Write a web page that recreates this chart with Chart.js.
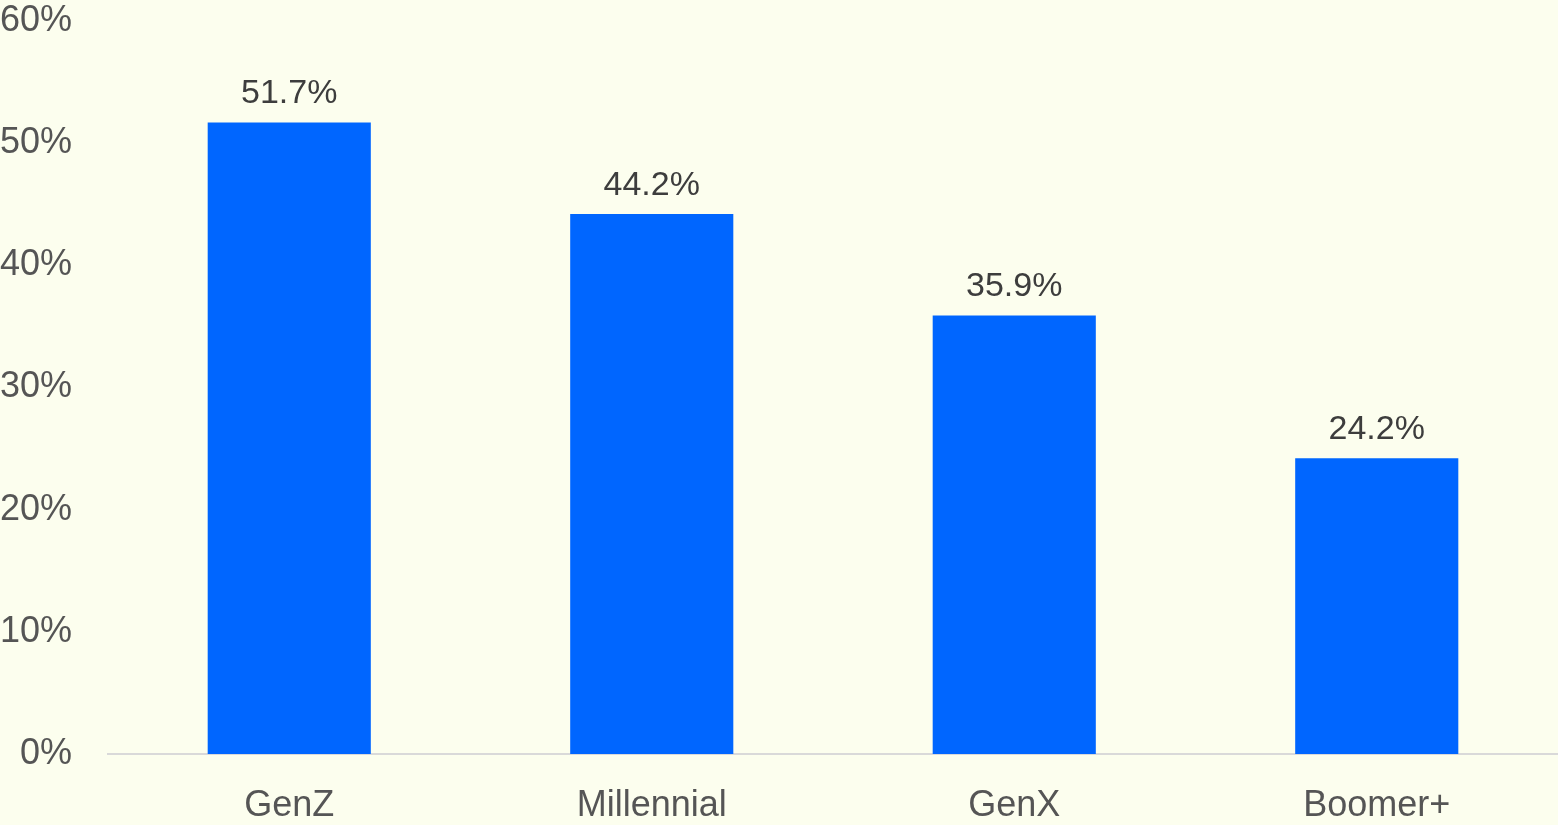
<!DOCTYPE html>
<html><head><meta charset="utf-8">
<script src="https://cdn.jsdelivr.net/npm/chart.js@4.4.1/dist/chart.umd.min.js"></script>
<style>
html,body{margin:0;padding:0;background:#FCFEEE;}
#wrap{width:1558px;height:825px;position:relative;}
</style></head>
<body><div id="wrap"><canvas id="c" width="1558" height="825"></canvas></div>
<script>
const categories = ["GenZ", "Millennial", "GenX", "Boomer+"];
const values = [51.7, 44.2, 35.9, 24.2];
const yTicks = [0, 10, 20, 30, 40, 50, 60];

const FONT = "'Liberation Sans', Arial, sans-serif";

const labelPlugin = {
  id: 'barLabels',
  afterDatasetsDraw(chart) {
    const ctx = chart.ctx;
    const meta = chart.getDatasetMeta(0);
    ctx.save();
    ctx.font = "34px " + FONT;
    ctx.fillStyle = "#3d3d3d";
    ctx.textAlign = "center";
    ctx.textBaseline = "alphabetic";
    meta.data.forEach((bar, i) => {
      ctx.fillText(values[i].toFixed(1) + "%", bar.x, bar.y - 19);
    });
    ctx.restore();
  }
};

new Chart(document.getElementById('c'), {
  type: 'bar',
  data: {
    labels: categories,
    datasets: [{
      data: values,
      backgroundColor: '#0066FF',
      borderWidth: 0,
      barPercentage: 0.45,
      categoryPercentage: 1.0
    }]
  },
  options: {
    responsive: false,
    animation: false,
    devicePixelRatio: 1,
    layout: { padding: { top: 21, right: 0, left: 0, bottom: 0 } },
    plugins: { legend: { display: false }, tooltip: { enabled: false } },
    scales: {
      x: {
        grid: { display: false, drawTicks: false },
        border: { display: true, color: '#d9d9d9', width: 2 },
        ticks: { color: '#555555', font: { family: FONT, size: 36 }, padding: 30 },
        afterFit(scale) { scale.height = 71; scale.paddingLeft = 0; scale.paddingRight = 0; }
      },
      y: {
        min: 0, max: 60,
        afterBuildTicks(scale) { scale.ticks = yTicks.map(v => ({ value: v })); },
        grid: { display: false, drawTicks: false },
        border: { display: false },
        ticks: {
          color: '#555555', font: { family: FONT, size: 36 }, padding: 36,
          callback: v => v + '%'
        },
        afterFit(scale) { scale.width = 108; scale.paddingTop = 0; scale.paddingBottom = 0; }
      }
    }
  },
  plugins: [labelPlugin, {
    id: 'bg',
    beforeDraw(chart) {
      const ctx = chart.ctx;
      ctx.save();
      ctx.fillStyle = '#FCFEEE';
      ctx.fillRect(0, 0, chart.width, chart.height);
      ctx.restore();
    }
  }]
});
</script></body></html>
